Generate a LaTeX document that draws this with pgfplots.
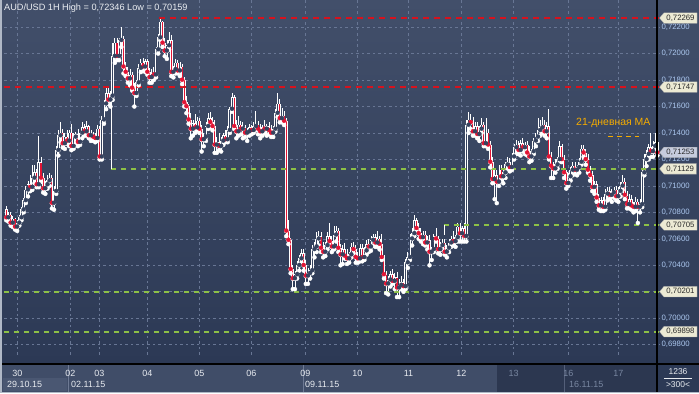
\documentclass[border=0pt]{standalone}
\usepackage{fontspec}
\setmainfont{Liberation Sans}
\usepackage{pgfplots}
\pgfplotsset{compat=1.18}
\usepackage{pgfplotstable}
\usetikzlibrary{shapes.symbols}

\definecolor{bgtop}{RGB}{66,79,106}
\definecolor{bgbot}{RGB}{44,57,85}
\definecolor{bgmid}{RGB}{54,67,95}
\definecolor{gridc}{RGB}{104,118,148}
\definecolor{ticktext}{RGB}{172,200,240}
\definecolor{lvlred}{RGB}{215,18,30}
\definecolor{lvlgreen}{RGB}{140,192,70}
\definecolor{maorange}{RGB}{245,172,0}
\definecolor{candlered}{RGB}{226,20,52}
\definecolor{tagbeige}{RGB}{236,234,212}
\definecolor{taggray}{RGB}{198,204,222}
\definecolor{tagtext}{RGB}{40,40,40}
\definecolor{panelL}{RGB}{64,77,104}
\definecolor{panelR}{RGB}{44,55,80}
\definecolor{boxc}{RGB}{74,87,114}
\definecolor{sepc}{RGB}{110,122,148}
\definecolor{daytext}{RGB}{232,235,240}
\definecolor{dimtext}{RGB}{120,134,160}
\definecolor{edgec}{RGB}{176,184,198}

\tikzset{tag/.style={signal, signal to=west, signal pointer angle=100, fill=tagbeige, draw=gray!70, line width=0.3bp,
    text=tagtext, font=\fontsize{7.8}{8}\selectfont, inner xsep=2.5bp, inner ysep=1bp, minimum height=10.5bp, anchor=west}}

\pgfplotstableread{
i o h l c
0 0.7082 0.7085 0.7074 0.7076
1 0.7076 0.7080 0.7073 0.7078
2 0.7078 0.7080 0.7070 0.7072
3 0.7072 0.7077 0.7069 0.7075
4 0.7075 0.7076 0.7067 0.7069
5 0.7069 0.7074 0.7066 0.7072
6 0.7072 0.7078 0.7070 0.7076
7 0.7076 0.7084 0.7074 0.7082
8 0.7082 0.7091 0.7080 0.7089
9 0.7089 0.7100 0.7087 0.7097
10 0.7097 0.7104 0.7092 0.7101
11 0.7101 0.7108 0.7096 0.7099
12 0.7099 0.7116 0.7097 0.7106
13 0.7106 0.7116 0.7102 0.7110
14 0.7110 0.7113 0.7099 0.7101
15 0.7101 0.7138 0.7099 0.7118
16 0.7118 0.7122 0.7103 0.7106
17 0.7106 0.7110 0.7095 0.7098
18 0.7098 0.7104 0.7094 0.7101
19 0.7101 0.7108 0.7098 0.7104
20 0.7104 0.7110 0.7100 0.7106
21 0.7106 0.7108 0.7083 0.7087
22 0.7087 0.7100 0.7082 0.7096
23 0.7096 0.7130 0.7094 0.7127
24 0.7127 0.7142 0.7123 0.7138
25 0.7138 0.7148 0.7133 0.7140
26 0.7140 0.7143 0.7129 0.7132
27 0.7132 0.7140 0.7128 0.7137
28 0.7137 0.7142 0.7132 0.7134
29 0.7134 0.7142 0.7130 0.7140
30 0.7140 0.7147 0.7127 0.7130
31 0.7130 0.7140 0.7128 0.7137
32 0.7137 0.7141 0.7132 0.7139
33 0.7139 0.7143 0.7130 0.7133
34 0.7133 0.7141 0.7131 0.7140
35 0.7140 0.7148 0.7136 0.7144
36 0.7144 0.7147 0.7138 0.7141
37 0.7141 0.7149 0.7138 0.7145
38 0.7145 0.7146 0.7136 0.7138
39 0.7138 0.7142 0.7134 0.7139
40 0.7139 0.7141 0.7134 0.7137
41 0.7137 0.7140 0.7133 0.7136
42 0.7136 0.7146 0.7134 0.7143
43 0.7143 0.7145 0.7120 0.7122
44 0.7122 0.7153 0.7120 0.7150
45 0.7150 0.7165 0.7147 0.7162
46 0.7162 0.7175 0.7158 0.7170
47 0.7170 0.7174 0.7162 0.7165
48 0.7165 0.7172 0.7160 0.7168
49 0.7168 0.7208 0.7165 0.7198
50 0.7198 0.7212 0.7193 0.7208
51 0.7208 0.7212 0.7195 0.7198
52 0.7198 0.7212 0.7195 0.7210
53 0.7210 0.7220 0.7205 0.7211
54 0.7211 0.7213 0.7185 0.7190
55 0.7190 0.7194 0.7183 0.7186
56 0.7186 0.7190 0.7178 0.7181
57 0.7181 0.7188 0.7176 0.7184
58 0.7184 0.7186 0.7172 0.7174
59 0.7174 0.7178 0.7160 0.7170
60 0.7170 0.7180 0.7168 0.7178
61 0.7178 0.7192 0.7176 0.7189
62 0.7189 0.7196 0.7186 0.7193
63 0.7193 0.7197 0.7187 0.7190
64 0.7190 0.7196 0.7186 0.7194
65 0.7194 0.7196 0.7184 0.7186
66 0.7186 0.7189 0.7178 0.7182
67 0.7182 0.7188 0.7178 0.7185
68 0.7185 0.7190 0.7180 0.7184
69 0.7184 0.7205 0.7182 0.7203
70 0.7203 0.7215 0.7200 0.7212
71 0.7212 0.7226 0.7210 0.7224
72 0.7224 0.7225 0.7205 0.7208
73 0.7208 0.7212 0.7198 0.7202
74 0.7202 0.7210 0.7196 0.7206
75 0.7206 0.7216 0.7203 0.7210
76 0.7210 0.7214 0.7183 0.7186
77 0.7186 0.7191 0.7182 0.7188
78 0.7188 0.7196 0.7185 0.7193
79 0.7193 0.7195 0.7185 0.7187
80 0.7187 0.7194 0.7183 0.7190
81 0.7190 0.7192 0.7177 0.7180
82 0.7180 0.7182 0.7160 0.7163
83 0.7163 0.7168 0.7155 0.7160
84 0.7160 0.7162 0.7147 0.7150
85 0.7150 0.7155 0.7136 0.7143
86 0.7143 0.7150 0.7138 0.7147
87 0.7147 0.7154 0.7140 0.7144
88 0.7144 0.7152 0.7142 0.7149
89 0.7149 0.7151 0.7140 0.7143
90 0.7143 0.7146 0.7126 0.7135
91 0.7135 0.7140 0.7130 0.7137
92 0.7137 0.7148 0.7134 0.7145
93 0.7145 0.7155 0.7143 0.7151
94 0.7151 0.7156 0.7144 0.7148
95 0.7148 0.7152 0.7142 0.7145
96 0.7145 0.7150 0.7125 0.7131
97 0.7131 0.7137 0.7125 0.7133
98 0.7133 0.7140 0.7127 0.7130
99 0.7130 0.7137 0.7126 0.7134
100 0.7134 0.7140 0.7131 0.7138
101 0.7138 0.7142 0.7133 0.7135
102 0.7135 0.7145 0.7133 0.7142
103 0.7142 0.7160 0.7140 0.7158
104 0.7158 0.7170 0.7156 0.7167
105 0.7167 0.7169 0.7143 0.7145
106 0.7145 0.7150 0.7136 0.7141
107 0.7141 0.7153 0.7138 0.7146
108 0.7146 0.7149 0.7139 0.7143
109 0.7143 0.7148 0.7136 0.7144
110 0.7144 0.7146 0.7137 0.7140
111 0.7140 0.7144 0.7134 0.7141
112 0.7141 0.7147 0.7138 0.7144
113 0.7144 0.7146 0.7139 0.7142
114 0.7142 0.7148 0.7140 0.7145
115 0.7145 0.7157 0.7142 0.7146
116 0.7146 0.7149 0.7139 0.7143
117 0.7143 0.7147 0.7136 0.7141
118 0.7141 0.7146 0.7138 0.7144
119 0.7144 0.7150 0.7140 0.7143
120 0.7143 0.7147 0.7138 0.7145
121 0.7145 0.7148 0.7139 0.7142
122 0.7142 0.7146 0.7137 0.7140
123 0.7140 0.7145 0.7137 0.7143
124 0.7143 0.7158 0.7141 0.7155
125 0.7155 0.7170 0.7152 0.7162
126 0.7162 0.7166 0.7148 0.7151
127 0.7151 0.7159 0.7148 0.7153
128 0.7153 0.7157 0.7146 0.7149
129 0.7149 0.7151 0.7062 0.7066
130 0.7066 0.7074 0.7056 0.7059
131 0.7059 0.7061 0.7034 0.7037
132 0.7037 0.7040 0.7022 0.7030
133 0.7030 0.7036 0.7022 0.7033
134 0.7033 0.7043 0.7030 0.7040
135 0.7040 0.7048 0.7036 0.7045
136 0.7045 0.7052 0.7042 0.7049
137 0.7049 0.7052 0.7036 0.7040
138 0.7040 0.7044 0.7026 0.7032
139 0.7032 0.7038 0.7026 0.7034
140 0.7034 0.7040 0.7030 0.7036
141 0.7036 0.7055 0.7034 0.7052
142 0.7052 0.7058 0.7046 0.7054
143 0.7054 0.7065 0.7050 0.7060
144 0.7060 0.7066 0.7055 0.7062
145 0.7062 0.7065 0.7050 0.7053
146 0.7053 0.7058 0.7046 0.7050
147 0.7050 0.7058 0.7047 0.7055
148 0.7055 0.7065 0.7052 0.7062
149 0.7062 0.7072 0.7055 0.7058
150 0.7058 0.7062 0.7050 0.7054
151 0.7054 0.7070 0.7052 0.7063
152 0.7063 0.7070 0.7058 0.7066
153 0.7066 0.7068 0.7050 0.7053
154 0.7053 0.7056 0.7040 0.7048
155 0.7048 0.7055 0.7041 0.7052
156 0.7052 0.7057 0.7045 0.7047
157 0.7047 0.7052 0.7041 0.7045
158 0.7045 0.7050 0.7042 0.7048
159 0.7048 0.7057 0.7046 0.7054
160 0.7054 0.7058 0.7049 0.7052
161 0.7052 0.7055 0.7042 0.7046
162 0.7046 0.7050 0.7042 0.7045
163 0.7045 0.7056 0.7043 0.7053
164 0.7053 0.7056 0.7043 0.7046
165 0.7046 0.7054 0.7044 0.7051
166 0.7051 0.7059 0.7048 0.7056
167 0.7056 0.7060 0.7050 0.7054
168 0.7054 0.7062 0.7051 0.7059
169 0.7059 0.7064 0.7055 0.7061
170 0.7061 0.7064 0.7054 0.7057
171 0.7057 0.7066 0.7054 0.7060
172 0.7060 0.7062 0.7052 0.7056
173 0.7056 0.7064 0.7044 0.7046
174 0.7046 0.7048 0.7030 0.7033
175 0.7033 0.7036 0.7019 0.7026
176 0.7026 0.7032 0.7018 0.7029
177 0.7029 0.7036 0.7024 0.7033
178 0.7033 0.7037 0.7026 0.7028
179 0.7028 0.7034 0.7022 0.7031
180 0.7031 0.7035 0.7016 0.7023
181 0.7023 0.7030 0.7016 0.7025
182 0.7025 0.7032 0.7022 0.7027
183 0.7027 0.7030 0.7020 0.7024
184 0.7024 0.7045 0.7022 0.7042
185 0.7042 0.7050 0.7038 0.7046
186 0.7046 0.7064 0.7044 0.7060
187 0.7060 0.7068 0.7055 0.7064
188 0.7064 0.7078 0.7062 0.7074
189 0.7074 0.7076 0.7066 0.7068
190 0.7068 0.7072 0.7060 0.7064
191 0.7064 0.7068 0.7058 0.7061
192 0.7061 0.7066 0.7056 0.7063
193 0.7063 0.7066 0.7055 0.7057
194 0.7057 0.7062 0.7052 0.7059
195 0.7059 0.7063 0.7040 0.7050
196 0.7050 0.7054 0.7044 0.7052
197 0.7052 0.7064 0.7050 0.7062
198 0.7062 0.7068 0.7058 0.7060
199 0.7060 0.7062 0.7049 0.7052
200 0.7052 0.7058 0.7048 0.7055
201 0.7055 0.7060 0.7052 0.7057
202 0.7057 0.7060 0.7048 0.7050
203 0.7050 0.7055 0.7046 0.7053
204 0.7053 0.7060 0.7050 0.7057
205 0.7057 0.7062 0.7054 0.7060
206 0.7060 0.7066 0.7055 0.7058
207 0.7058 0.7063 0.7054 0.7061
208 0.7061 0.7072 0.7058 0.7069
209 0.7069 0.7072 0.7058 0.7064
210 0.7064 0.7070 0.7058 0.7068
211 0.7068 0.7072 0.7058 0.7062
212 0.7062 0.7150 0.7058 0.7146
213 0.7146 0.7156 0.7140 0.7150
214 0.7150 0.7154 0.7143 0.7148
215 0.7148 0.7152 0.7138 0.7141
216 0.7141 0.7148 0.7138 0.7145
217 0.7145 0.7148 0.7136 0.7139
218 0.7139 0.7145 0.7134 0.7143
219 0.7143 0.7151 0.7140 0.7146
220 0.7146 0.7148 0.7130 0.7132
221 0.7132 0.7151 0.7130 0.7140
222 0.7140 0.7143 0.7128 0.7131
223 0.7131 0.7134 0.7114 0.7118
224 0.7118 0.7122 0.7102 0.7105
225 0.7105 0.7112 0.7090 0.7108
226 0.7108 0.7112 0.7087 0.7103
227 0.7103 0.7116 0.7100 0.7112
228 0.7112 0.7116 0.7104 0.7107
229 0.7107 0.7112 0.7102 0.7110
230 0.7110 0.7118 0.7106 0.7116
231 0.7116 0.7122 0.7112 0.7118
232 0.7118 0.7121 0.7111 0.7114
233 0.7114 0.7125 0.7112 0.7122
234 0.7122 0.7132 0.7120 0.7129
235 0.7129 0.7135 0.7124 0.7131
236 0.7131 0.7134 0.7124 0.7127
237 0.7127 0.7135 0.7123 0.7132
238 0.7132 0.7136 0.7126 0.7129
239 0.7129 0.7133 0.7124 0.7131
240 0.7131 0.7134 0.7123 0.7125
241 0.7125 0.7130 0.7118 0.7122
242 0.7122 0.7128 0.7119 0.7126
243 0.7126 0.7136 0.7124 0.7134
244 0.7134 0.7140 0.7130 0.7137
245 0.7137 0.7151 0.7134 0.7142
246 0.7142 0.7150 0.7138 0.7144
247 0.7144 0.7152 0.7140 0.7146
248 0.7146 0.7150 0.7138 0.7141
249 0.7141 0.7148 0.7136 0.7145
250 0.7145 0.7158 0.7120 0.7122
251 0.7122 0.7126 0.7106 0.7115
252 0.7115 0.7118 0.7106 0.7113
253 0.7113 0.7120 0.7110 0.7116
254 0.7116 0.7122 0.7113 0.7120
255 0.7120 0.7134 0.7118 0.7130
256 0.7130 0.7132 0.7118 0.7120
257 0.7120 0.7123 0.7106 0.7110
258 0.7110 0.7112 0.7098 0.7102
259 0.7102 0.7110 0.7100 0.7107
260 0.7107 0.7114 0.7104 0.7112
261 0.7112 0.7118 0.7108 0.7115
262 0.7115 0.7118 0.7109 0.7112
263 0.7112 0.7116 0.7108 0.7114
264 0.7114 0.7121 0.7110 0.7118
265 0.7118 0.7131 0.7116 0.7128
266 0.7128 0.7131 0.7122 0.7125
267 0.7125 0.7128 0.7116 0.7120
268 0.7120 0.7124 0.7110 0.7112
269 0.7112 0.7115 0.7104 0.7108
270 0.7108 0.7111 0.7096 0.7099
271 0.7099 0.7104 0.7094 0.7101
272 0.7101 0.7104 0.7088 0.7091
273 0.7091 0.7094 0.7082 0.7085
274 0.7085 0.7092 0.7081 0.7089
275 0.7089 0.7092 0.7081 0.7084
276 0.7084 0.7098 0.7082 0.7094
277 0.7094 0.7099 0.7089 0.7096
278 0.7096 0.7099 0.7090 0.7093
279 0.7093 0.7098 0.7088 0.7095
280 0.7095 0.7099 0.7091 0.7097
281 0.7097 0.7100 0.7089 0.7092
282 0.7092 0.7099 0.7088 0.7096
283 0.7096 0.7103 0.7092 0.7100
284 0.7100 0.7108 0.7097 0.7103
285 0.7103 0.7106 0.7090 0.7093
286 0.7093 0.7096 0.7083 0.7086
287 0.7086 0.7094 0.7083 0.7090
288 0.7090 0.7093 0.7082 0.7085
289 0.7085 0.7088 0.7080 0.7084
290 0.7084 0.7092 0.7081 0.7088
291 0.7088 0.7090 0.7072 0.7084
292 0.7084 0.7090 0.7080 0.7086
293 0.7086 0.7112 0.7084 0.7110
294 0.7110 0.7124 0.7108 0.7120
295 0.7120 0.7127 0.7115 0.7124
296 0.7124 0.7132 0.7120 0.7129
297 0.7129 0.7140 0.7122 0.7126
298 0.7126 0.7134 0.7122 0.7130
299 0.7130 0.7140 0.7126 0.7133
300 0.7133 0.7136 0.7123 0.7125
}\candles

\begin{document}
\begin{tikzpicture}[x=1bp,y=1bp]
\useasboundingbox (0,0) rectangle (699,393);
\shade[top color=bgtop, bottom color=bgbot] (0,29) rectangle (699,393);
% bottom panel
\fill[panelL] (0,0) rectangle (497,29);
\fill[panelR] (497,0) rectangle (657,29);
\fill[boxc] (3,2) rectangle (67,15);
\fill[bgbot] (657,0) rectangle (699,29);
\draw[sepc, line width=0.8bp] (68,0) -- (68,29);
\draw[sepc, line width=0.8bp] (303,0) -- (303,29);
\draw[sepc!60!panelR, line width=0.8bp] (564,0) -- (564,29);

\begin{axis}[
  at={(2,29)}, anchor=south west, scale only axis,
  width=655bp, height=364bp,
  xmin=-0.9, xmax=300.9, ymin=0.69725, ymax=0.72476,
  clip=false,
  axis line style={draw=none}, tick style={draw=none},
  xtick={5.1,29.5,42.9,65.0,89.0,112.9,137.8,161.8,185.3,209.7,233.7,259.0,282.0},
  xticklabels={30,02,03,04,05,06,09,10,11,12,\textcolor{dimtext}{13},\textcolor{dimtext}{16},\textcolor{dimtext}{17}},
  xticklabel style={font=\fontsize{9}{10}\selectfont, text=daytext, anchor=center, inner sep=0pt, yshift=-19bp},
  ytick={0.698,0.700,0.702,0.704,0.706,0.708,0.710,0.712,0.714,0.716,0.718,0.720,0.722},
  yticklabels={{0,69800},{0,70000},{},{0,70400},{0,70600},{0,70800},{0,71000},{0,71200},{0,71400},{0,71600},{0,71800},{0,72000},{0,72200}},
  yticklabel pos=right,
  yticklabel style={font=\fontsize{7.8}{8}\selectfont, text=ticktext, anchor=west, inner sep=0pt, xshift=2bp},
  grid=major,
  major grid style={draw=gridc, line width=0.6bp, dash pattern=on 2.5bp off 3bp},
]
% wicks
\addplot[white, only marks, mark=none, error bars/.cd, y dir=plus, y explicit, error mark=none,
  error bar style={white, line width=0.8bp, solid}]
  table[x=i, y=l, y error expr=\thisrow{h}-\thisrow{l}] {\candles};
% body outlines
\addplot[white, only marks, mark=none, error bars/.cd, y dir=plus, y explicit, error mark=none,
  error bar style={white, line width=2.7bp, solid}]
  table[x=i, y expr={min(\thisrow{o},\thisrow{c})-0.00002}, y error expr={max(abs(\thisrow{o}-\thisrow{c}),0.00004)+0.00004}] {\candles};
% bearish inner (red)
\addplot[candlered, only marks, mark=none, restrict expr to domain={\thisrow{o}-\thisrow{c}}{0.00009:1},
  error bars/.cd, y dir=plus, y explicit, error mark=none,
  error bar style={candlered, line width=1.1bp, solid}]
  table[x=i, y expr={\thisrow{c}+0.00003}, y error expr={\thisrow{o}-\thisrow{c}-0.00006}] {\candles};
% bullish inner (hollow)
\addplot[bgmid, only marks, mark=none, restrict expr to domain={\thisrow{c}-\thisrow{o}}{0.00009:1},
  error bars/.cd, y dir=plus, y explicit, error mark=none,
  error bar style={bgmid, line width=1.0bp, solid}]
  table[x=i, y expr={\thisrow{o}+0.00003}, y error expr={\thisrow{c}-\thisrow{o}-0.00006}] {\candles};
% level lines (drawn over the candles)
\addplot[lvlred, line width=1.9bp, dash pattern=on 6bp off 5bp] coordinates {(70.5,0.72269) (300.9,0.72269)};
\addplot[lvlred, line width=1.9bp, dash pattern=on 6bp off 5bp] coordinates {(-0.9,0.71747) (300.9,0.71747)};
\addplot[lvlgreen, line width=1.9bp, dash pattern=on 5bp off 5bp] coordinates {(48.4,0.71129) (300.9,0.71129)};
\addplot[lvlgreen, line width=1.9bp, dash pattern=on 5bp off 5bp] coordinates {(201.9,0.70705) (300.9,0.70705)};
\addplot[lvlgreen, line width=1.9bp, dash pattern=on 5bp off 5bp] coordinates {(-0.9,0.70201) (300.9,0.70201)};
\addplot[lvlgreen, line width=1.9bp, dash pattern=on 5bp off 5bp] coordinates {(-0.9,0.69898) (300.9,0.69898)};
\addplot[white, line width=0.7bp] coordinates {(48.4,0.71129) (48.4,0.7197)};
\addplot[white, line width=0.7bp] coordinates {(201.9,0.70705) (201.9,0.7063)};
% MA legend
\addplot[maorange, line width=1.8bp, dash pattern=on 5bp off 4bp] coordinates {(277.4,0.71373) (291.3,0.71373)};
\node[text=maorange, font=\fontsize{10.5}{11}\selectfont] at (axis cs:279.7,0.71478) {21-дневная MA};
% price tags
\node[tag] at (axis cs:300.9,0.72269) {0,72269};
\node[tag] at (axis cs:300.9,0.71747) {0,71747};
\node[tag, fill=taggray] at (axis cs:300.9,0.71253) {0,71253};
\node[tag] at (axis cs:300.9,0.71129) {0,71129};
\node[tag] at (axis cs:300.9,0.70705) {0,70705};
\node[tag] at (axis cs:300.9,0.70201) {0,70201};
\node[tag] at (axis cs:300.9,0.69898) {0,69898};
\end{axis}

% separators and frame
\draw[black, line width=1.2bp] (657,0) -- (657,393);
\draw[black, line width=1.2bp] (0,29) -- (699,29);
\fill[edgec] (0,0) rectangle (1.5,393);
\fill[edgec] (0,0) rectangle (699,1.5);

% texts
\node[anchor=west, text=daytext!85!white, font=\fontsize{9.2}{10}\selectfont, inner sep=0pt] at (4,385) {AUD/USD 1H High = 0,72346 Low = 0,70159};
\node[anchor=west, text=daytext, font=\fontsize{9}{10}\selectfont, inner sep=0pt] at (7,9) {29.10.15};
\node[anchor=west, text=daytext, font=\fontsize{9}{10}\selectfont, inner sep=0pt] at (71,9) {02.11.15};
\node[anchor=west, text=daytext, font=\fontsize{9}{10}\selectfont, inner sep=0pt] at (305,9) {09.11.15};
\node[anchor=west, text=dimtext, font=\fontsize{9}{10}\selectfont, inner sep=0pt] at (569,9) {16.11.15};
\node[text=daytext, font=\fontsize{8.5}{9}\selectfont, inner sep=0pt] at (678,21) {1236};
\draw[daytext, line width=0.5bp] (664,15) -- (692,15);
\node[text=daytext, font=\fontsize{8.5}{9}\selectfont, inner sep=0pt] at (678,8) {>300<};
\end{tikzpicture}
\end{document}
